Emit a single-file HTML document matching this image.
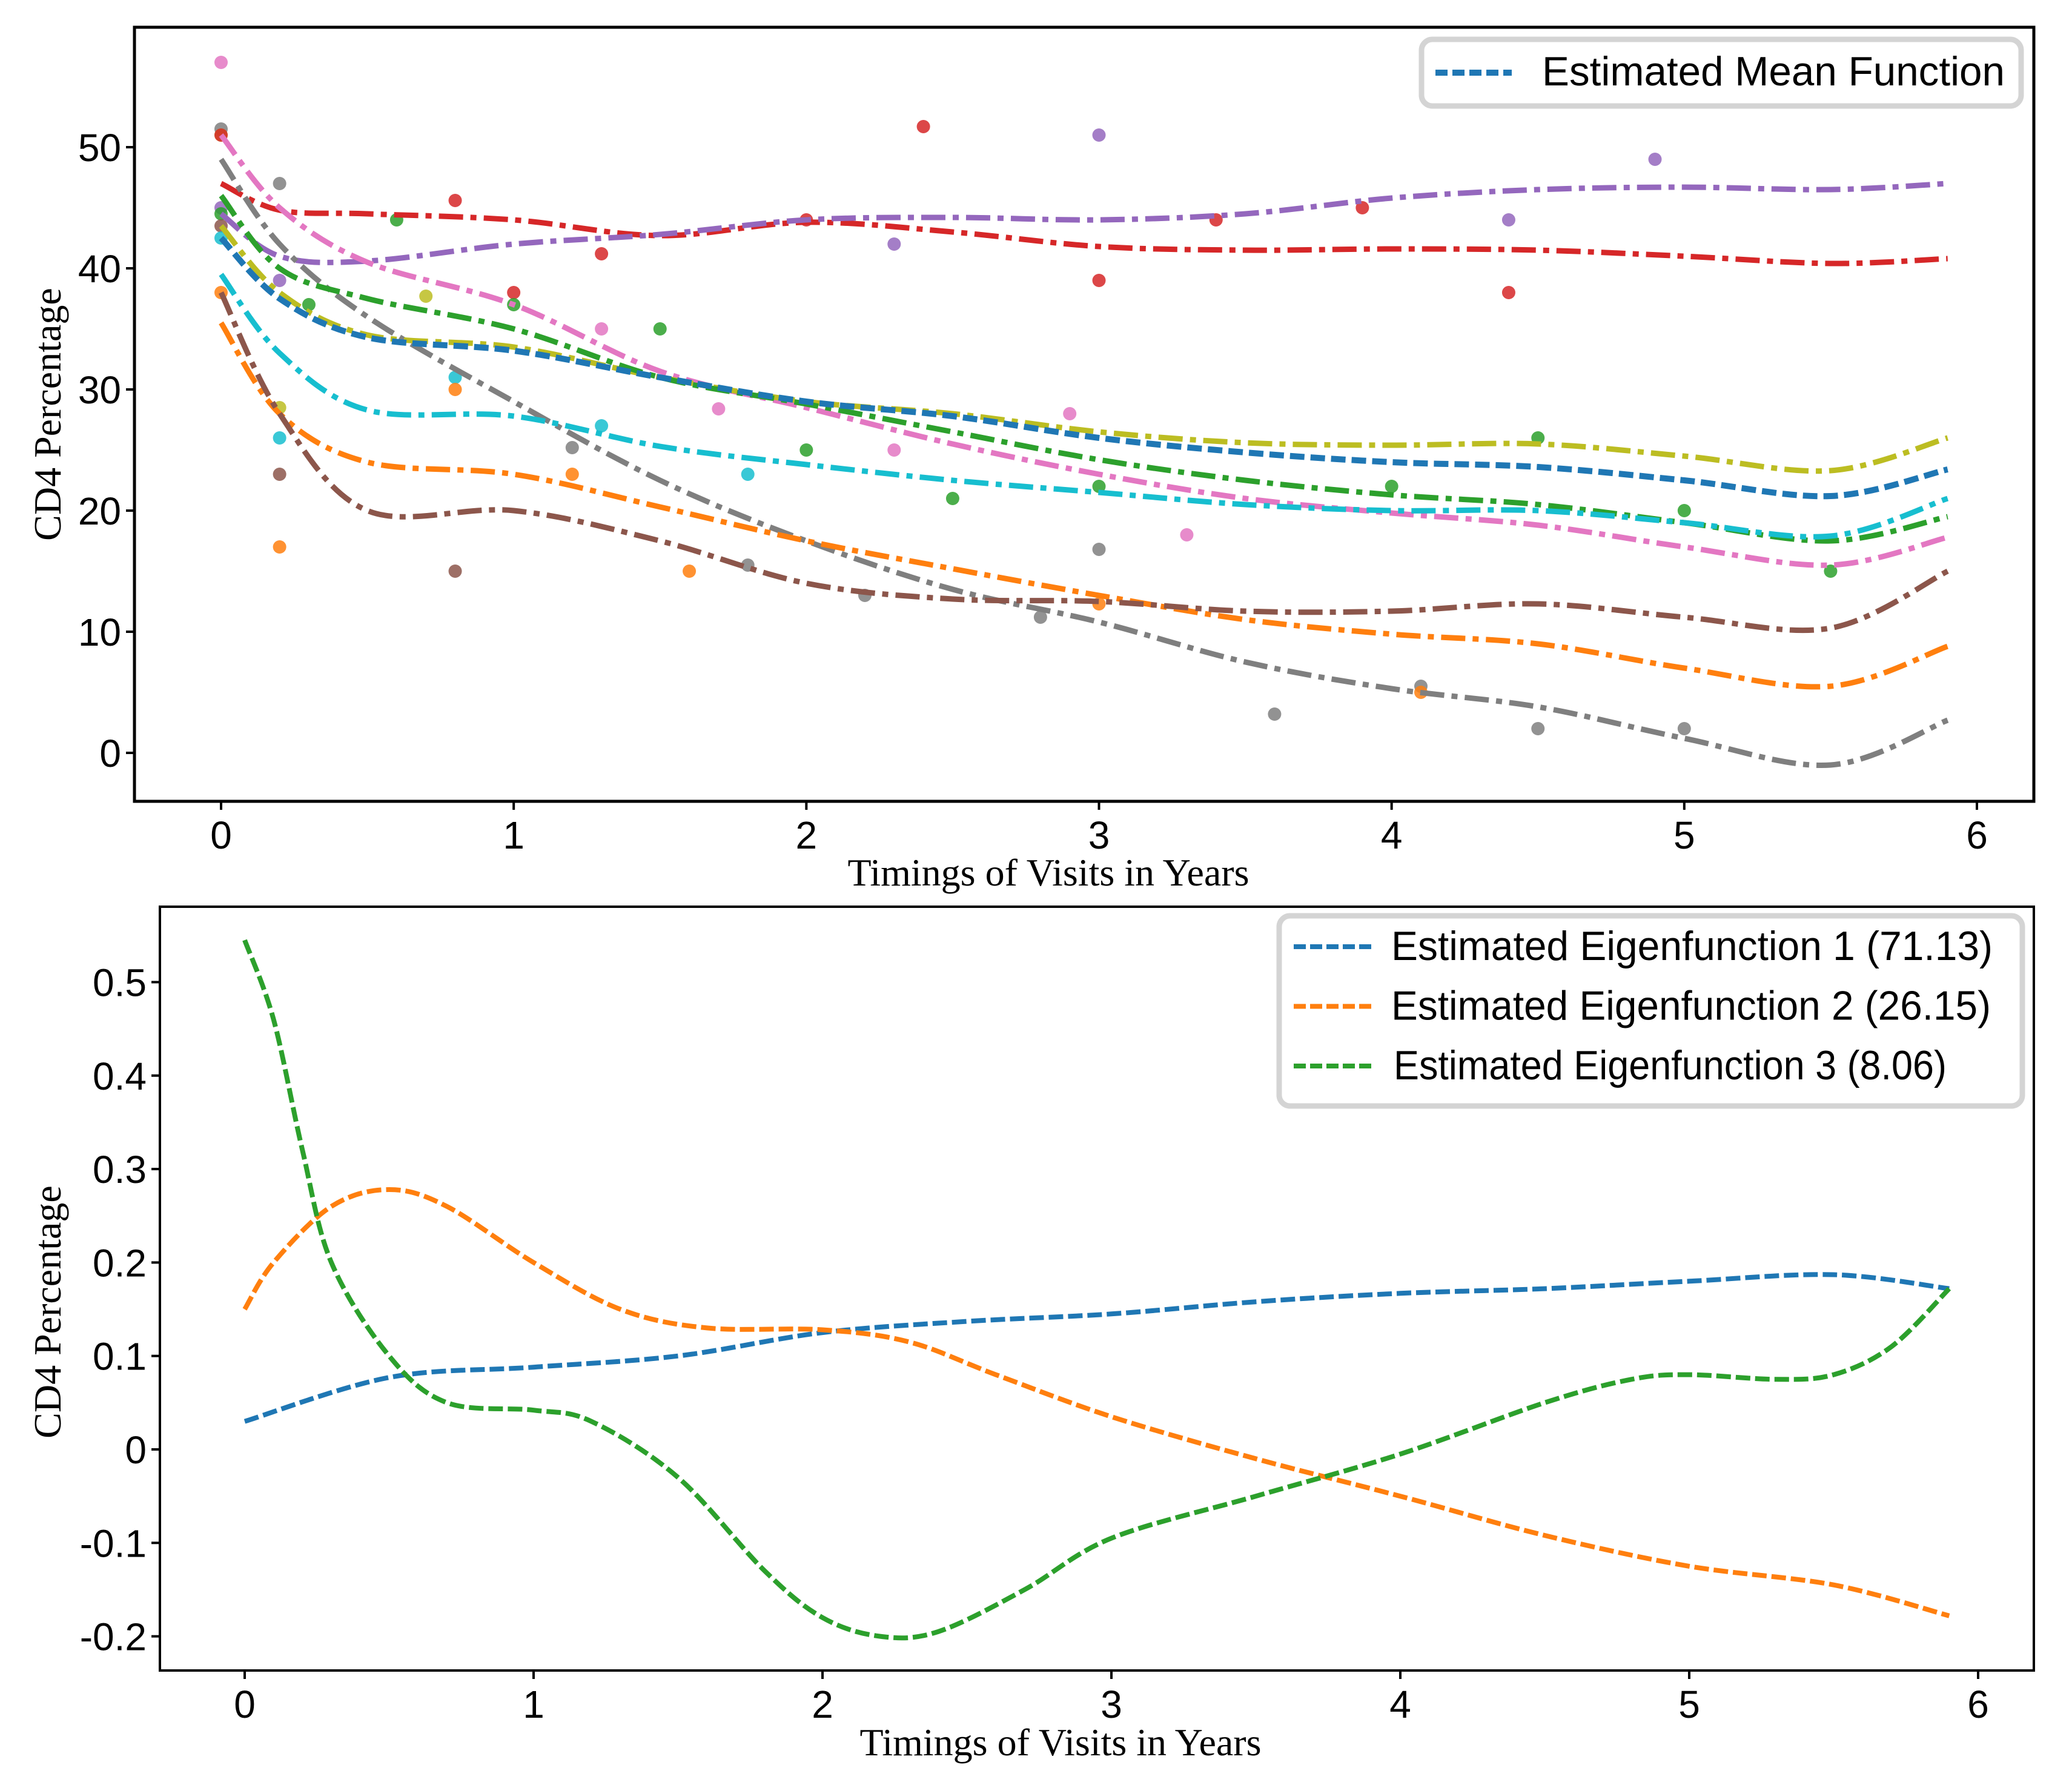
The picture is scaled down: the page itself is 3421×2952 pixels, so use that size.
<!DOCTYPE html>
<html><head><meta charset="utf-8"><style>
html,body{margin:0;padding:0;background:#fff;}
svg{display:block;}
.tk{font-family:"Liberation Sans",sans-serif;font-size:64px;fill:#000;}
.ax{font-family:"Liberation Serif",serif;font-size:64px;fill:#000;}
.lg{font-family:"Liberation Sans",sans-serif;font-size:68px;fill:#000;}
</style></head><body>
<svg id="fig" width="3421" height="2952" viewBox="0 0 3421 2952" xmlns="http://www.w3.org/2000/svg">
<g id="topPanel"></g>
<g id="botPanel"></g>
</svg>
<script>
// ---- top panel data ----
const topX = [0,0.2,0.5,1,1.5,2,2.5,3,3.5,4,4.5,5,5.5,5.9];
const colors = {blue:'#1f77b4',orange:'#ff7f0e',green:'#2ca02c',red:'#d62728',purple:'#9467bd',brown:'#8c564b',pink:'#e377c2',gray:'#7f7f7f',olive:'#bcbd22',cyan:'#17becf'};
const meanY   = [42.5,37.5,34.3,33.2,31,29,27.8,26,24.8,24,23.6,22.5,21.2,23.4];
const oliveY  = [43.5,38,34.5,33.5,31,29,28,26.5,25.6,25.4,25.5,24.5,23.3,26];
const redY    = [47,44.8,44.5,44,42.7,43.8,43,41.8,41.5,41.6,41.5,41,40.4,40.8];
const purpleY = [44.5,41,40.6,42,42.8,44,44.2,44,44.5,45.8,46.5,46.7,46.5,47];
const pinkY   = [51,45,40.5,37,31.5,28.5,25.5,23,21,19.8,18.8,17,15.5,17.8];
const greenY  = [46,40,37.5,35,31,28.8,26.5,24.2,22.5,21.3,20.5,19,17.5,19.5];
const grayY   = [49,42,36,29,22.5,17.5,13.5,10.8,7.5,5.3,3.8,1.2,-1,2.7];
const cyanY   = [39.5,33,28.3,27.8,25.3,23.8,22.5,21.5,20.5,20,20,19,17.9,21];
const orangeY = [35.5,28,24,23,20.3,17.5,15.2,13,11,9.8,9,7,5.5,8.8];
const brownY  = [38,28,20,20,17.5,14,12.7,12.5,11.7,11.7,12.3,11.2,10.3,15];
const subjects = [['red',redY],['purple',purpleY],['pink',pinkY],['gray',grayY],['olive',oliveY],['green',greenY],['cyan',cyanY],['orange',orangeY],['brown',brownY]];
const dotX = [0,1.7,2.3,2.9,3.3,1.3, 0,0.2,1.2,2.2,2.8,3,3.6,4.1,4.5,5,1.8, 0,0.2,0.7, 0,0.8,1,1.3,2,2.4,3,3.4,3.9,4.4, 0,0.2,2.3,3,4.4,4.9, 0,0.3,0.6,1,1.5,2,2.5,3,4,4.5,5,5.5, 0,0.2,0.8, 0,0.2,0.8,1.3,1.8, 0,0.2,0.8,1.2,1.6,3,4.1];
const dotY = [57,28.4,25,28,18,35, 51.5,47,25.2,13,11.2,16.8,3.2,5.5,2,2,15.5, 51,28.5,37.7, 51,45.6,38,41.2,44,51.7,39,44,45,38, 45,39,42,51,44,49, 44.5,37,44,37,35,25,21,22,22,26,20,15, 43.5,23,15, 42.5,26,31,27,23, 38,17,30,23,15,12.3,5];
const dotC = ['pink','pink','pink','pink','pink','pink','gray','gray','gray','gray','gray','gray','gray','gray','gray','gray','gray','olive','olive','olive','red','red','red','red','red','red','red','red','red','red','purple','purple','purple','purple','purple','purple','green','green','green','green','green','green','green','green','green','green','green','green','brown','brown','brown','cyan','cyan','cyan','cyan','cyan','orange','orange','orange','orange','orange','orange','orange'];
const topYTicks = [0,10,20,30,40,50];
const xTicks = [0,1,2,3,4,5,6];
// ---- bottom panel data ----
const e1X = [0,0.5,1,1.5,2,2.5,3,3.5,4,4.5,5,5.5,5.9];
const e1Y = [0.03,0.077,0.088,0.1,0.125,0.137,0.145,0.158,0.167,0.172,0.18,0.187,0.172];
const e2X = [0,0.1,0.3,0.5,0.7,1,1.3,1.6,2,2.3,2.6,3,3.5,4,4.5,5,5.5,5.9];
const e2Y = [0.15,0.2,0.26,0.278,0.26,0.2,0.15,0.13,0.128,0.115,0.08,0.035,-0.01,-0.05,-0.092,-0.125,-0.145,-0.178];
const e3X = [0,0.1,0.2,0.3,0.5,0.7,1,1.2,1.5,1.8,2,2.2,2.4,2.7,3,3.5,4,4.5,4.8,5,5.3,5.5,5.7,5.9];
const e3Y = [0.545,0.46,0.32,0.2,0.1,0.05,0.042,0.03,-0.03,-0.13,-0.18,-0.2,-0.195,-0.15,-0.095,-0.05,-0.005,0.05,0.075,0.08,0.075,0.08,0.11,0.172];
const botYTicks = [-0.2,-0.1,0,0.1,0.2,0.3,0.4,0.5];
const botYLabels = ['-0.2','-0.1','0','0.1','0.2','0.3','0.4','0.5'];
const legendBot = ['Estimated Eigenfunction 1 (71.13)','Estimated Eigenfunction 2 (26.15)','Estimated Eigenfunction 3 (8.06)'];

const NS='http://www.w3.org/2000/svg';
function mk(tag,attrs,parent){const e=document.createElementNS(NS,tag);for(const k in attrs)e.setAttribute(k,attrs[k]);parent.appendChild(e);return e;}
function pathD(xs,ys,sx,sy){
  const P=xs.map((x,i)=>[sx(x),sy(ys[i])]);let d='M'+P[0][0].toFixed(1)+','+P[0][1].toFixed(1);
  for(let i=0;i<P.length-1;i++){const p0=P[Math.max(0,i-1)],p1=P[i],p2=P[i+1],p3=P[Math.min(P.length-1,i+2)];
    const c1=[p1[0]+(p2[0]-p0[0])/6,p1[1]+(p2[1]-p0[1])/6],c2=[p2[0]-(p3[0]-p1[0])/6,p2[1]-(p3[1]-p1[1])/6];
    d+=' C'+c1[0].toFixed(1)+','+c1[1].toFixed(1)+' '+c2[0].toFixed(1)+','+c2[1].toFixed(1)+' '+p2[0].toFixed(1)+','+p2[1].toFixed(1);}
  return d;}

// top axes
const T={l:222,r:3358,t:45,b:1323};
const tx=x=>365+x*(3264-365)/6, ty=y=>1243-y*20;
const topG=document.getElementById('topPanel');
for(let i=0;i<dotX.length;i++){const c=mk('circle',{cx:tx(dotX[i]),cy:ty(dotY[i]),r:11,fill:colors[dotC[i]],'fill-opacity':0.85},topG);

}
subjects.forEach(([c,ys])=>{const p=mk('path',{d:pathD(topX,ys,tx,ty),fill:'none',stroke:colors[c],'stroke-width':9,'stroke-dasharray':'40 12 10 12'},topG);

});
const mp=mk('path',{d:pathD(topX,meanY,tx,ty),fill:'none',stroke:colors.blue,'stroke-width':10,'stroke-dasharray':'24 10'},topG);


const tf=mk('rect',{x:T.l,y:T.t,width:T.r-T.l,height:T.b-T.t,fill:'none',stroke:'#000','stroke-width':5},topG);


topYTicks.forEach(v=>{mk('line',{x1:T.l-14,x2:T.l,y1:ty(v),y2:ty(v),stroke:'#000','stroke-width':4},topG);
const t=mk('text',{x:T.l-22,y:ty(v)+23,'text-anchor':'end',class:'tk'},topG);t.textContent=v;

});
xTicks.forEach(v=>{mk('line',{x1:tx(v),x2:tx(v),y1:T.b,y2:T.b+14,stroke:'#000','stroke-width':4},topG);
const t=mk('text',{x:tx(v),y:T.b+78,'text-anchor':'middle',class:'tk'},topG);t.textContent=v;

});
let t1=mk('text',{x:1731,y:1462,'text-anchor':'middle',class:'ax'},topG);t1.textContent='Timings of Visits in Years';


let t2=mk('text',{x:0,y:0,'text-anchor':'middle',class:'ax',transform:'translate(100,684) rotate(-90)'},topG);t2.textContent='CD4 Percentage';


let lg=mk('g',{},topG);


mk('rect',{x:2347,y:65,width:990,height:110,rx:18,fill:'#fff',stroke:'#d4d4d4','stroke-width':9},lg);
mk('line',{x1:2370,x2:2496,y1:120,y2:120,stroke:colors.blue,'stroke-width':10,'stroke-dasharray':'20 8'},lg);
let lt=mk('text',{x:2546,y:141,class:'lg',textLength:764,lengthAdjust:'spacingAndGlyphs'},lg);lt.textContent='Estimated Mean Function';



// bottom axes
const B={l:264,r:3358,t:1497,b:2758};
const bx=x=>404+x*(3266-404)/6, by=y=>2393-y*1543;
const botG=document.getElementById('botPanel');
[[e1X,e1Y,colors.blue],[e2X,e2Y,colors.orange],[e3X,e3Y,colors.green]].forEach(([xs,ys,c],i)=>{
const p=mk('path',{d:pathD(xs,ys,bx,by),fill:'none',stroke:c,'stroke-width':8,'stroke-dasharray':'24 8'},botG);

});
const bf=mk('rect',{x:B.l,y:B.t,width:B.r-B.l,height:B.b-B.t,fill:'none',stroke:'#000','stroke-width':4},botG);


botYTicks.forEach((v,i)=>{mk('line',{x1:B.l-14,x2:B.l,y1:by(v),y2:by(v),stroke:'#000','stroke-width':4},botG);
const t=mk('text',{x:B.l-22,y:by(v)+23,'text-anchor':'end',class:'tk'},botG);t.textContent=botYLabels[i];

});
xTicks.forEach(v=>{mk('line',{x1:bx(v),x2:bx(v),y1:B.b,y2:B.b+14,stroke:'#000','stroke-width':4},botG);
const t=mk('text',{x:bx(v),y:B.b+78,'text-anchor':'middle',class:'tk'},botG);t.textContent=v;

});
let t3=mk('text',{x:1751,y:2898,'text-anchor':'middle',class:'ax'},botG);t3.textContent='Timings of Visits in Years';


let t4=mk('text',{x:0,y:0,'text-anchor':'middle',class:'ax',transform:'translate(100,2166) rotate(-90)'},botG);t4.textContent='CD4 Percentage';


let lg2=mk('g',{},botG);


mk('rect',{x:2112,y:1512,width:1227,height:314,rx:18,fill:'#fff',stroke:'#d4d4d4','stroke-width':9},lg2);
const lc=[colors.blue,colors.orange,colors.green], tw=[993,990,913];
legendBot.forEach((s,i)=>{const y=1563+i*98.5;
mk('line',{x1:2136,x2:2269,y1:y,y2:y,stroke:lc[i],'stroke-width':8,'stroke-dasharray':'20 7'},lg2);
const t=mk('text',{x:2297+(i==2?4:0),y:y+22,class:'lg',textLength:tw[i],lengthAdjust:'spacingAndGlyphs'},lg2);t.textContent=s;

});
</script>
</body></html>
